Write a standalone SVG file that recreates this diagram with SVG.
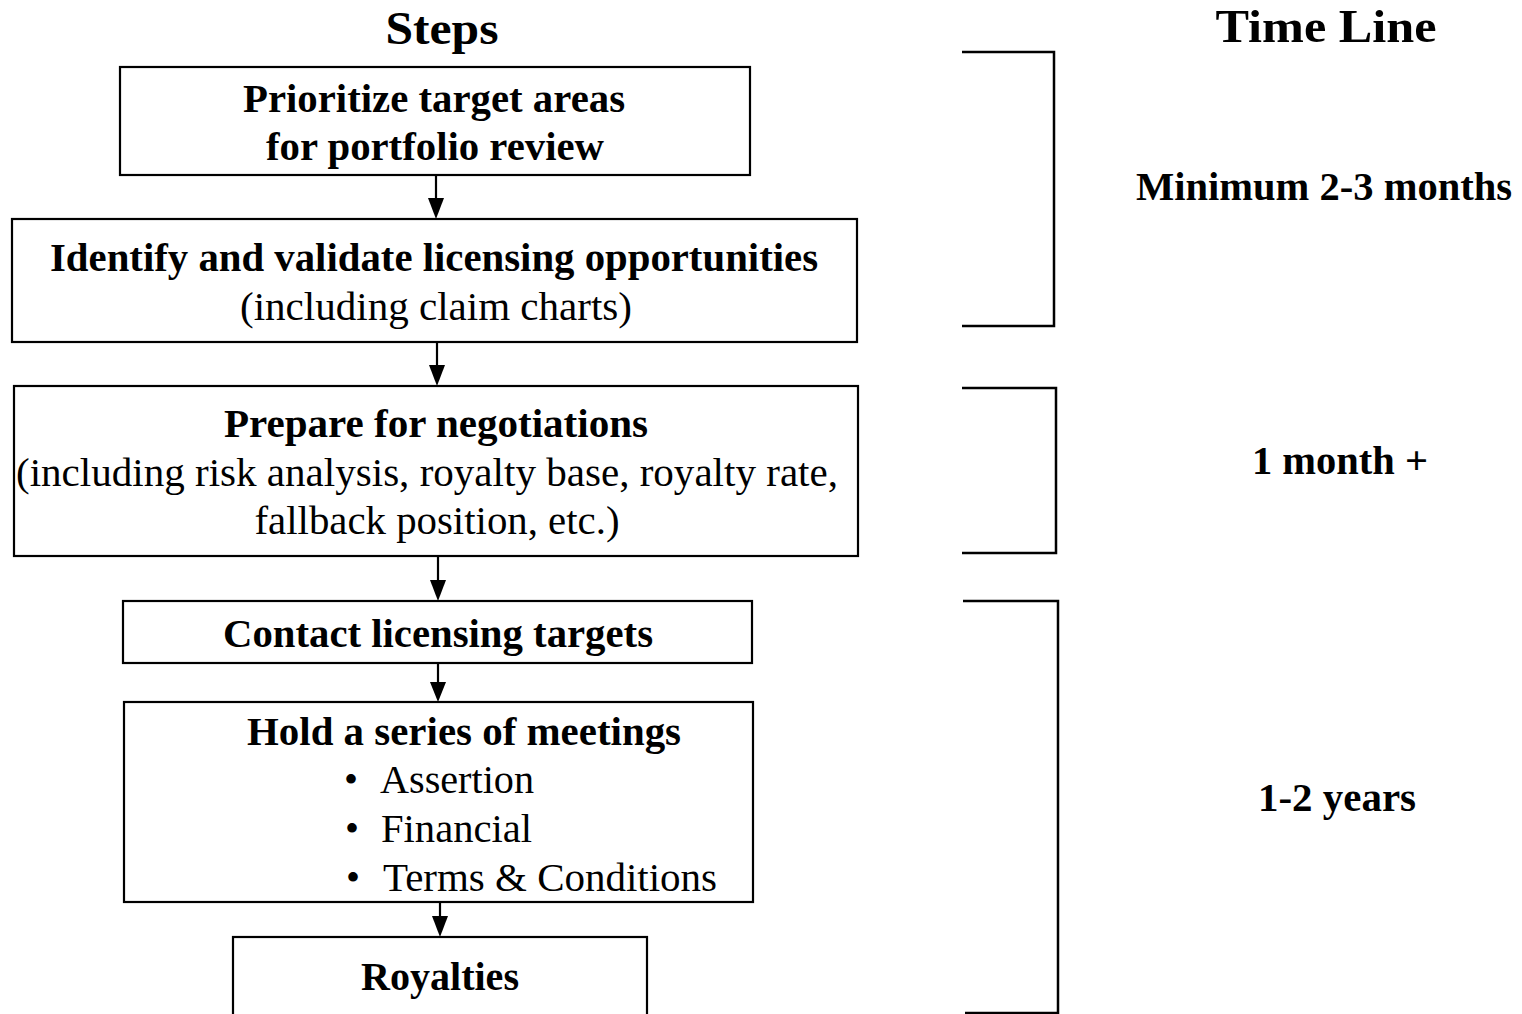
<svg xmlns="http://www.w3.org/2000/svg" width="1522" height="1014" viewBox="0 0 1522 1014">
<defs>
<style>
.box{fill:#fff;stroke:#000;stroke-width:2.2}
.t{font-family:"Liberation Serif","Times New Roman",serif;font-size:40px;fill:#000;text-anchor:middle}
.s{text-anchor:start}
.b{font-weight:bold}
.h{font-family:"Liberation Serif","Times New Roman",serif;font-size:46px;font-weight:bold;fill:#000;text-anchor:middle}
.ln{fill:none;stroke:#000;stroke-width:2.2}
.br{fill:none;stroke:#000;stroke-width:2.5}
</style>
</defs>
<rect width="1522" height="1014" fill="#fff"/>
<text class="h" x="442" y="44" textLength="113" lengthAdjust="spacingAndGlyphs">Steps</text>
<text class="h" x="1326" y="42" textLength="221" lengthAdjust="spacingAndGlyphs">Time Line</text>

<g id="connectors">
<path class="ln" d="M436,175 V200"/><path d="M428,198 L444,198 L436,219 Z"/>
<path class="ln" d="M437,342 V367"/><path d="M429,365 L445,365 L437,386 Z"/>
<path class="ln" d="M438,556 V582"/><path d="M430,580 L446,580 L438,601 Z"/>
<path class="ln" d="M438,663 V684"/><path d="M430,682 L446,682 L438,702 Z"/>
<path class="ln" d="M440,902 V918"/><path d="M432,916 L448,916 L440,937 Z"/>
</g>

<g id="n1"><rect class="box" x="120" y="67" width="630" height="108"/>
<text class="t b" x="434" y="112" textLength="382" lengthAdjust="spacingAndGlyphs">Prioritize target areas</text>
<text class="t b" x="435" y="160" textLength="338" lengthAdjust="spacingAndGlyphs">for portfolio review</text></g>

<g id="n2"><rect class="box" x="12" y="219" width="845" height="123"/>
<text class="t b" x="434" y="271" textLength="768" lengthAdjust="spacingAndGlyphs">Identify and validate licensing opportunities</text>
<text class="t" x="436" y="320" textLength="392" lengthAdjust="spacingAndGlyphs">(including claim charts)</text></g>

<g id="n3"><rect class="box" x="14" y="386" width="844" height="170"/>
<text class="t b" x="436" y="437" textLength="424" lengthAdjust="spacingAndGlyphs">Prepare for negotiations</text>
<text class="t" x="427" y="486" textLength="822" lengthAdjust="spacingAndGlyphs">(including risk analysis, royalty base, royalty rate,</text>
<text class="t" x="437" y="534" textLength="365" lengthAdjust="spacingAndGlyphs">fallback position, etc.)</text></g>

<g id="n4"><rect class="box" x="123" y="601" width="629" height="62"/>
<text class="t b" x="438" y="647" textLength="430" lengthAdjust="spacingAndGlyphs">Contact licensing targets</text></g>

<g id="n5"><rect class="box" x="124" y="702" width="629" height="200"/>
<text class="t b" x="464" y="745" textLength="434" lengthAdjust="spacingAndGlyphs">Hold a series of meetings</text>
<text class="t" x="351" y="793">•</text>
<text class="t s" x="380" y="793" textLength="154" lengthAdjust="spacingAndGlyphs">Assertion</text>
<text class="t" x="352" y="842">•</text>
<text class="t s" x="381" y="842" textLength="151" lengthAdjust="spacingAndGlyphs">Financial</text>
<text class="t" x="353" y="891">•</text>
<text class="t s" x="383" y="891" textLength="334" lengthAdjust="spacingAndGlyphs">Terms &amp; Conditions</text></g>

<g id="n6"><rect class="box" x="233" y="937" width="414" height="90"/>
<text class="t b" x="440" y="990" textLength="158" lengthAdjust="spacingAndGlyphs">Royalties</text></g>

<g id="timeline">
<path class="br" d="M962,52 H1054 V326 H962"/>
<text class="t b" x="1324" y="200" textLength="376" lengthAdjust="spacingAndGlyphs">Minimum 2-3 months</text>
<path class="br" d="M962,388 H1056 V553 H962"/>
<text class="t b" x="1340" y="474" textLength="176" lengthAdjust="spacingAndGlyphs">1 month +</text>
<path class="br" d="M963,601 H1058 V1013 H965"/>
<text class="t b" x="1337" y="811" textLength="158" lengthAdjust="spacingAndGlyphs">1-2 years</text>
</g>
</svg>
